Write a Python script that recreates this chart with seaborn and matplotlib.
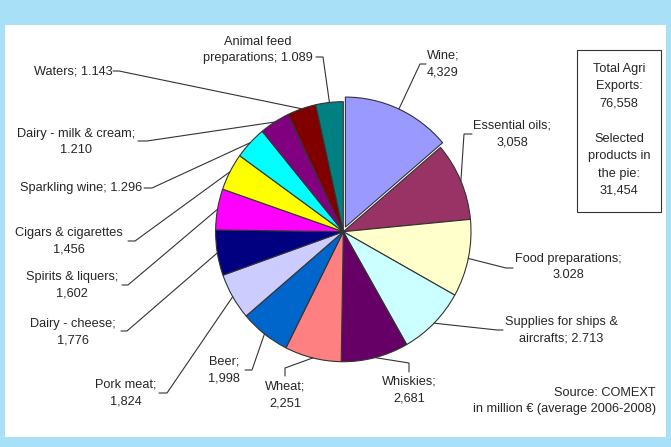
import numpy as np
import matplotlib
matplotlib.use("Agg")
import matplotlib.pyplot as plt
from matplotlib.patches import Rectangle
import seaborn as sns

sns.set_style("white")
plt.rcParams["font.family"] = ["Liberation Sans", "DejaVu Sans"]

# Agri-food export products (million EUR, average 2006-2008), clockwise from 12 o'clock
products = ["Wine", "Essential oils", "Food preparations", "Supplies for ships & aircrafts",
            "Whiskies", "Wheat", "Beer", "Pork meat", "Dairy - cheese", "Spirits & liquers",
            "Cigars & cigarettes", "Sparkling wine", "Dairy - milk & cream", "Waters",
            "Animal feed preparations"]
values = [4329, 3058, 3028, 2713, 2681, 2251, 1998, 1824, 1776, 1602, 1456, 1296, 1210, 1143, 1089]
slice_labels = ["Wine;\n4,329", "Essential oils;\n3,058", "Food preparations;\n3.028",
                "Supplies for ships &\naircrafts; 2.713", "Whiskies;\n2,681", "Wheat;\n2,251",
                "Beer;\n1,998", "Pork meat;\n1,824", "Dairy - cheese;\n1,776",
                "Spirits & liquers;\n1,602", "Cigars & cigarettes\n1,456", "Sparkling wine; 1.296",
                "Dairy - milk & cream;\n1.210", "Waters; 1.143", "Animal feed\npreparations; 1.089"]
total_agri = "76,558"
selected_total = "31,454"

colors = sns.color_palette(["#9999FF", "#993366", "#FFFFCC", "#CCFFFF", "#660066", "#FF8080",
                            "#0066CC", "#CCCCFF", "#000080", "#FF00FF", "#FFFF00", "#00FFFF",
                            "#800080", "#800000", "#008080"])

# ---- layout (pixel coordinates, y downwards) ----
W, H = 671, 447
CX, CY = 343.3, 231.7      # pie centre
RX, RY = 127.7, 130.0      # pie radii
EXPLODE_PX = 5.0           # offset of the first wedge

# text centre, leader elbow, leader end (next to the text)
label_pos = [(443, 64), (512, 134), (568, 267), (561, 330), (409, 390), (285, 395),
             (224, 370), (126, 393), (73, 332), (72, 285), (69, 241), (81, 188),
             (76, 142), (73, 71), (258, 50)]
leader_elbow = [(420, 64), (464, 134), (506, 268), (497, 330), (409, 363), (285, 368),
                (252, 370), (167, 393), (127, 331), (128, 285), (135, 241), (152, 188),
                (147, 141), (119, 71), (323, 57)]
leader_end = [(426, 64), (472, 134), (513, 268), (503, 330), (409, 372), (285, 376),
              (245, 370), (159, 393), (121, 331), (122, 285), (128, 241), (144, 188),
              (138, 141), (113, 71), (316, 57)]

BG = "#A8E0F8"
INK = "#262626"
LINE = "#333333"
FS = 9.2

fig = plt.figure(figsize=(W / 100, H / 100), dpi=100, facecolor=BG)
fig.patches.append(Rectangle((5 / W, (H - 437) / H), 661 / W, 412 / H,
                             transform=fig.transFigure, facecolor="white",
                             edgecolor="none", zorder=-10))

# pie in its own axes (unit radius, slightly taller than wide)
ax_pie = fig.add_axes([(CX - RX) / W, (H - CY - RY) / H, 2 * RX / W, 2 * RY / H])
ax_pie.set_facecolor("none")
explode = [EXPLODE_PX / RX] + [0] * (len(values) - 1)
ax_pie.pie(values, colors=colors, startangle=90, counterclock=False, explode=explode,
           radius=1.0, wedgeprops=dict(edgecolor=LINE, linewidth=0.8))
ax_pie.set_aspect("auto")
ax_pie.set_xlim(-1, 1)
ax_pie.set_ylim(-1, 1)
ax_pie.axis("off")

# overlay in pixel coordinates for labels and leader lines
ax = fig.add_axes([0, 0, 1, 1])
ax.set_facecolor("none")
ax.set_xlim(0, W)
ax.set_ylim(H, 0)
ax.axis("off")

vals = np.asarray(values, dtype=float)
frac = vals / vals.sum()
mid = 90.0 - 360.0 * (np.cumsum(frac) - frac / 2)
for i, (lab, th) in enumerate(zip(slice_labels, np.deg2rad(mid))):
    ox = explode[i] * RX * np.cos(th)
    oy = explode[i] * RY * np.sin(th)
    ex = CX + ox + RX * np.cos(th)
    ey = CY - oy - RY * np.sin(th)
    bx, by = leader_elbow[i]
    tx, ty = leader_end[i]
    ax.plot([ex, bx, tx], [ey, by, ty], color=LINE, lw=0.8, solid_joinstyle="miter")
    lx, ly = label_pos[i]
    ax.text(lx, ly, lab, ha="center", va="center", multialignment="center",
            fontsize=FS, color=INK, linespacing=1.5)

# totals box
ax.add_patch(Rectangle((577, 50), 84, 162, facecolor="white", edgecolor=LINE, lw=0.8))
ax.text(619, 130, f"Total Agri\nExports:\n{total_agri}\n\nSelected\nproducts in\nthe pie:\n{selected_total}",
        ha="center", va="center", multialignment="center", fontsize=FS, color=INK,
        linespacing=1.6)

ax.text(656, 401, "Source: COMEXT\nin million € (average 2006-2008)",
        ha="right", va="center", multialignment="right", fontsize=FS, color=INK,
        linespacing=1.5)

fig.savefig("out.png", dpi=100, facecolor=BG)
